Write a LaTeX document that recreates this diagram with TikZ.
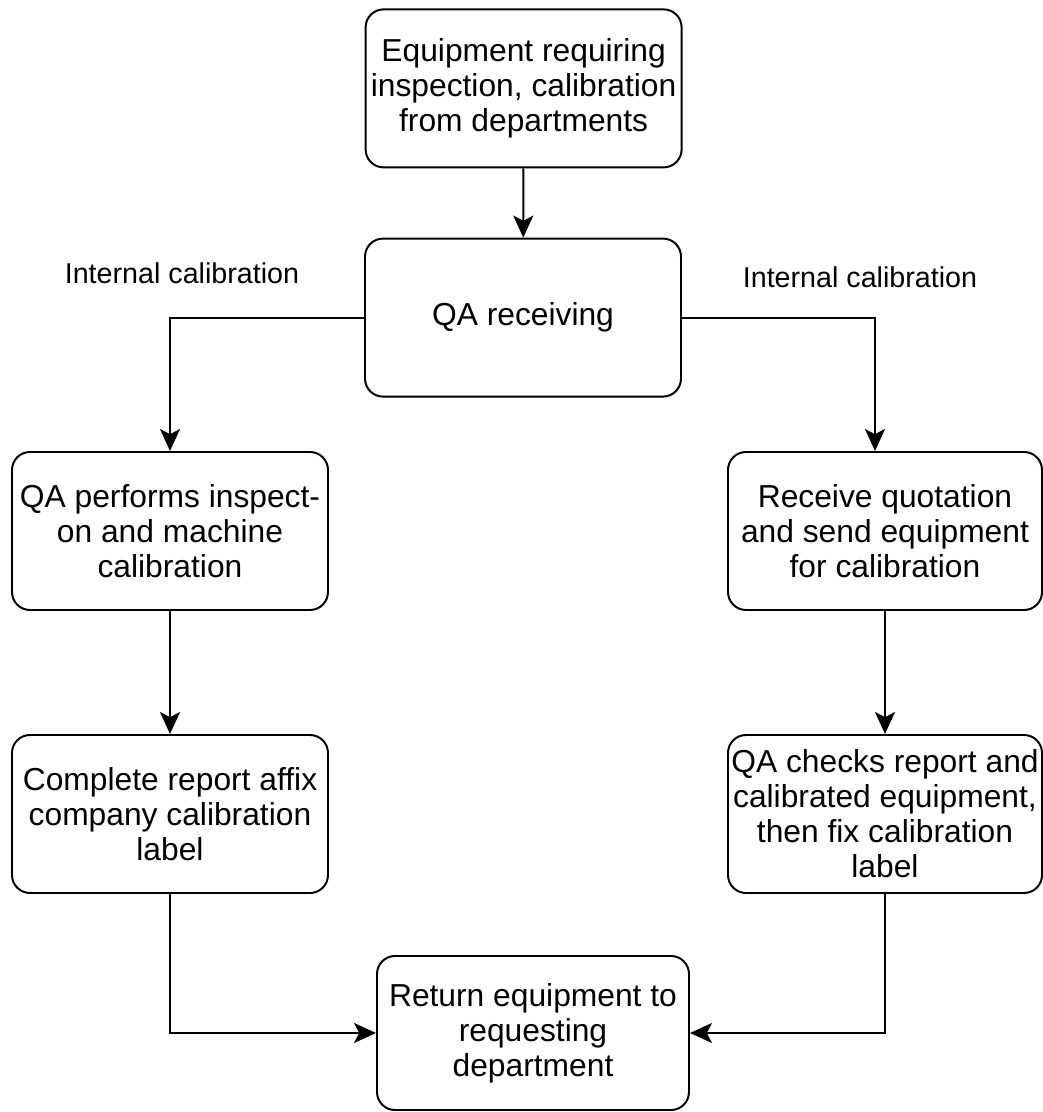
\documentclass[tikz,border=0pt]{standalone}
\usepackage{fontspec}
\setmainfont{Liberation Sans}
\usetikzlibrary{arrows.meta}

\begin{document}
\begin{tikzpicture}[
    box/.style={draw, line width=1.4pt, rounded corners=0.45cm, inner xsep=1pt, minimum width=7.9cm, minimum height=3.95cm, align=center, font=\fontsize{22.6}{24.9}\selectfont},
    lbl/.style={font=\fontsize{20.4}{24}\selectfont},
    arr/.style={-{Stealth[length=0.55cm, width=0.5cm, inset=0.13cm]}, line width=1.4pt}
]
    \useasboundingbox (0, 0) rectangle (26.075, 27.8);

    \node[box] (src) at (13.09, 25.59) {Equipment requiring\\inspection, calibration\\from departments};
    \node[box] (recv) at (13.075, 19.86) {QA receiving};
    \node[box] (inhouse) at (4.25, 14.525) {QA performs inspect-\\on and machine\\calibration};
    \node[box, minimum width=7.85cm] (quote) at (22.125, 14.525) {Receive quotation\\and send equipment\\for calibration};
    \node[box] (affix) at (4.25, 7.45) {Complete report affix\\company calibration\\label};
    \node[box, minimum width=7.85cm] (check) at (22.125, 7.45) {QA checks report and\\calibrated equipment,\\then fix calibration\\label};
    \node[box, minimum width=7.8cm, minimum height=3.85cm] (ret) at (13.325, 1.975) {Return equipment to\\requesting\\department};

    \node[lbl] (lblLeft) at (4.55, 20.975) {Internal calibration};
    \node[lbl] (lblRight) at (21.5, 20.875) {Internal calibration};

    \draw[arr] (src) -- (recv);
    \draw[arr] (recv.west) -| (inhouse.north);
    \draw[arr] (recv.east) -| ([xshift=-0.25cm]quote.north);
    \draw[arr] (inhouse) -- (affix);
    \draw[arr] (quote) -- (check);
    \draw[arr] (affix.south) |- (ret.west);
    \draw[arr] (check.south) |- (ret.east);
\end{tikzpicture}
\end{document}
